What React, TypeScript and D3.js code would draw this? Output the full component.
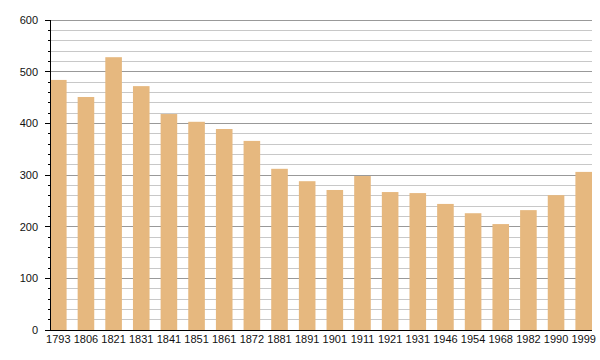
import React from "react";
import * as d3 from "d3";

const years = ["1793","1806","1821","1831","1841","1851","1861","1872","1881","1891","1901","1911","1921","1931","1946","1954","1968","1982","1990","1999"];
const population = [484,451,528,472,418,403,389,366,312,288,271,298,267,265,244,226,205,232,261,306];
const majorTicks = [0,100,200,300,400,500,600];
const minorTicks = d3.range(0, 601, 20);

const W = 600, H = 360;
const left = 50, right = 592, top = 20, bottom = 330;

export default function App() {
  const x = d3.scaleBand<string>().domain(years).range([left, right]).paddingInner(0.4).paddingOuter(0);
  const y = d3.scaleLinear().domain([0, 600]).range([bottom, top]);
  const font = "'Liberation Sans', Arial, sans-serif";
  return (
    <svg width={W} height={H} style={{ position: "absolute", left: 0, top: 0 }}>
      <rect width={W} height={H} fill="#fff" />
      {minorTicks.filter(t => t % 100 !== 0).map(t => (
        <line key={"g" + t} x1={left} x2={right} y1={y(t)} y2={y(t)} stroke="#c8c8c8" strokeWidth={1} shapeRendering="crispEdges" />
      ))}
      {majorTicks.filter(t => t !== 0).map(t => (
        <line key={"M" + t} x1={left} x2={right} y1={y(t)} y2={y(t)} stroke="#999" strokeWidth={1} shapeRendering="crispEdges" />
      ))}
      {years.map((yr, i) => (
        <rect key={yr} x={x(yr)} y={y(population[i])} width={x.bandwidth()} height={bottom - y(population[i])} fill="#e6b87f" />
      ))}
      <line x1={left} x2={left} y1={top} y2={bottom} stroke="#000" strokeWidth={1} shapeRendering="crispEdges" />
      <line x1={left} x2={right} y1={bottom} y2={bottom} stroke="#000" strokeWidth={1} shapeRendering="crispEdges" />
      {minorTicks.map(t => (
        <line key={"t" + t} x1={t % 100 === 0 ? left - 5 : left - 2} x2={left} y1={y(t)} y2={y(t)} stroke="#000" strokeWidth={1} shapeRendering="crispEdges" />
      ))}
      {majorTicks.map(t => (
        <text key={"l" + t} x={38} y={y(t)} dy="0.35em" textAnchor="end" fontFamily={font} fontSize={11} fill="#111">{t}</text>
      ))}
      {years.map(yr => (
        <text key={"x" + yr} x={(x(yr) as number) + x.bandwidth() / 2} y={bottom + 13} textAnchor="middle" fontFamily={font} fontSize={11} fill="#111">{yr}</text>
      ))}
    </svg>
  );
}
